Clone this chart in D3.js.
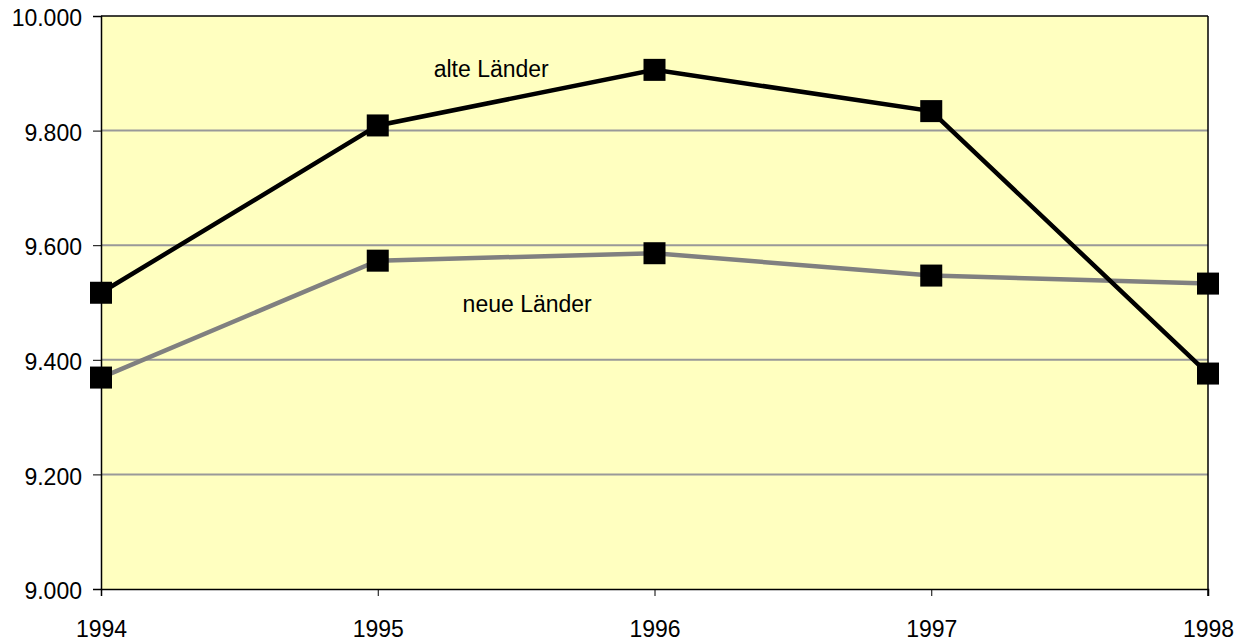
<!DOCTYPE html>
<html>
<head>
<meta charset="utf-8">
<script src="https://cdn.jsdelivr.net/npm/d3@7"></script>
<style>
  body { margin: 0; background: #fff; }
  text { font-family: "Liberation Sans", Arial, sans-serif; }
</style>
</head>
<body>
<div id="chart"></div>
<script>
const years = [1994, 1995, 1996, 1997, 1998];
const alteLaender = [9517, 9809, 9906, 9834, 9376];
const neueLaender = [9369, 9573, 9586, 9547, 9533];
const yTicks = [9000, 9200, 9400, 9600, 9800, 10000];
const seriesNames = ["alte Länder", "neue Länder"];
// label anchors in data units (year, value)
const labelPos = [[1995.41, 9894], [1995.54, 9484]];

const W = 1252, H = 641;
const margin = { top: 16, right: 44, bottom: 52, left: 101 };
const width = W - margin.left - margin.right;
const height = H - margin.top - margin.bottom;
const fontSize = "23px";

const svg = d3.select("#chart")
    .append("svg")
    .attr("width", W)
    .attr("height", H)
    .append("g")
    .attr("transform", "translate(" + margin.left + "," + margin.top + ")");

var x = d3.scaleLinear()
    .domain([d3.min(years), d3.max(years)])
    .range([0, width]);
var y = d3.scaleLinear()
    .domain([9000, 10000])
    .range([height, 0]);

// plot background
svg.append("rect")
    .attr("width", width)
    .attr("height", height)
    .attr("fill", "#ffffc0");

// gridlines
svg.append("g")
    .selectAll("line")
    .data(yTicks.slice(1, -1))
    .enter()
    .append("line")
    .attr("x1", 0).attr("x2", width)
    .attr("y1", d => y(d)).attr("y2", d => y(d))
    .attr("stroke", "#999")
    .attr("stroke-width", 2);

// right border + top border
svg.append("line")
    .attr("x1", width).attr("x2", width)
    .attr("y1", 0).attr("y2", height + 7)
    .attr("stroke", "#000").attr("stroke-width", 1.5);
svg.append("line")
    .attr("x1", 0).attr("x2", width)
    .attr("y1", 0).attr("y2", 0)
    .attr("stroke", "#000").attr("stroke-width", 1.5);

// Y axis
const yAxis = svg.append("g")
    .call(d3.axisLeft(y)
        .tickValues(yTicks)
        .tickSize(8)
        .tickPadding(11)
        .tickFormat(d => d3.format(",.3f")(d / 1000).replace(",", "")));
yAxis.select(".domain").attr("stroke-width", 1.5);
yAxis.selectAll("text")
    .attr("font-size", fontSize)
    .attr("fill", "#000")
    .attr("dy", "0.42em");

// X axis
const xAxis = svg.append("g")
    .attr("transform", "translate(0," + height + ")")
    .call(d3.axisBottom(x)
        .tickValues(years)
        .tickSize(7)
        .tickPadding(25)
        .tickFormat(d3.format("d")));
xAxis.select(".domain").attr("stroke-width", 1.5);
xAxis.selectAll("text")
    .attr("font-size", fontSize)
    .attr("fill", "#000");

const line = d3.line()
    .x((d, i) => x(years[i]))
    .y(d => y(d));

function drawSeries(data, color, lw) {
    svg.append("path")
        .datum(data)
        .attr("d", line)
        .attr("fill", "none")
        .attr("stroke", color)
        .attr("stroke-width", lw);
    svg.append("g")
        .selectAll("rect")
        .data(data)
        .enter()
        .append("rect")
        .attr("x", (d, i) => x(years[i]) - 11)
        .attr("y", d => y(d) - 11)
        .attr("width", 22)
        .attr("height", 22)
        .attr("fill", "#000");
}
drawSeries(neueLaender, "#808080", 4.5);
drawSeries(alteLaender, "#000", 4.5);

// series labels
svg.append("g")
    .selectAll("text")
    .data(seriesNames)
    .enter()
    .append("text")
    .attr("x", (d, i) => x(labelPos[i][0]))
    .attr("y", (d, i) => y(labelPos[i][1]))
    .attr("text-anchor", "middle")
    .attr("font-size", fontSize)
    .attr("fill", "#000")
    .text(d => d);
</script>
</body>
</html>
